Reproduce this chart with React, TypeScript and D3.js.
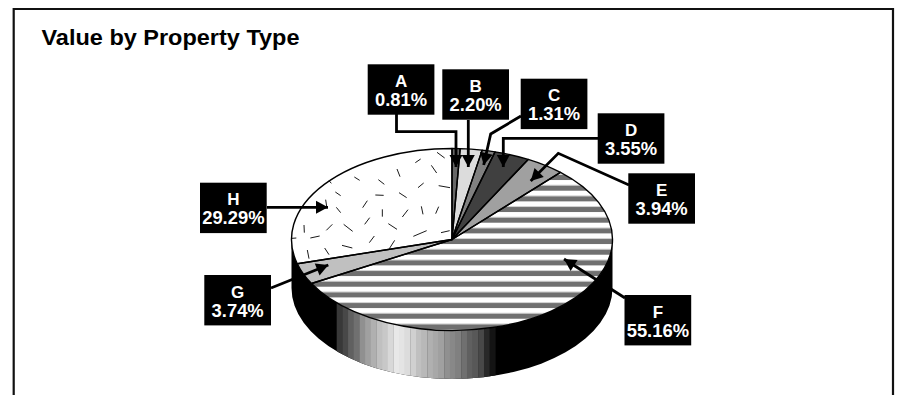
import React from "react";
import * as d3 from "d3";

const categories = ["A", "B", "C", "D", "E", "F", "G", "H"];
const shares = [0.81, 2.2, 1.31, 3.55, 3.94, 55.16, 3.74, 29.29];
const shareLabels = ["0.81%", "2.20%", "1.31%", "3.55%", "3.94%", "55.16%", "3.74%", "29.29%"];
const sliceFills = ["#666666", "#dcdcdc", "#808080", "#404040", "#a0a0a0", "#ffffff", "#c0c0c0", "#ffffff"];
const sideShades = [
  "#383838", "#484848", "#606060", "#707070", "#909090", "#a0a0a0", "#b0b0b0", "#c0c0c0", "#c8c8c8", "#d8d8d8",
  "#e8e8e8", "#e4e4e4", "#dcdcdc", "#d0d0d0", "#c0c0c0", "#b8b8b8", "#b0b0b0", "#a8a8a8", "#a0a0a0", "#909090",
  "#888888", "#808080", "#707070", "#606060", "#585858", "#484848", "#282828", "#141414",
];
const title = "Value by Property Type";

const W = 898, H = 395;
const cx = 452, cy = 239.5, rx = 160.5, ry = 91, depth = 48.5;

// callout boxes [left, top] and leader routes, per category
const boxSize: [number, number] = [66.7, 50.4];
const boxes: [number, number][] = [
  [367.7, 64.3], [442.3, 69.3], [520.7, 78.7], [597.7, 113.3],
  [628.3, 173.3], [624.5, 295], [204.3, 275], [200, 182.7],
];
const leaders: [number, number][][] = [
  [[396.5, 114], [396.5, 131.7], [456, 131.7], [456, 167]],
  [[468.3, 120], [468.3, 167]],
  [[521, 116], [490.7, 134], [483.7, 165]],
  [[598, 138.3], [503.3, 138.3], [503.3, 167]],
  [[629, 185], [558.3, 153.3], [530.7, 181]],
  [[625, 298], [564, 259]],
  [[271, 288], [328.3, 265]],
  [[267, 207.3], [328, 207.3]],
];

// dash texture of slice H, in a 495 x 360 tile laid over the slice
const texture: [number, number, number, number][] = [
  [441, 13, 464, 30], [376, 44, 392, 33], [321, 63, 330, 86], [424, 52, 440, 75], [193, 87, 209, 97],
  [265, 95, 283, 109], [117, 98, 124, 106], [384, 119, 401, 105], [446, 113, 480, 119], [136, 132, 152, 143],
  [256, 141, 281, 142], [327, 134, 350, 149], [107, 155, 110, 175], [139, 178, 152, 194], [218, 179, 232, 158],
  [277, 184, 277, 206], [337, 207, 354, 185], [394, 175, 399, 199], [437, 197, 446, 176], [224, 229, 239, 209],
  [161, 229, 188, 250], [295, 227, 321, 244], [42, 231, 43, 254], [109, 247, 127, 229], [370, 265, 410, 248],
  [61, 270, 89, 264], [453, 254, 479, 248], [6, 271, 19, 270], [238, 284, 253, 264], [156, 292, 187, 300],
  [298, 302, 314, 277], [104, 300, 117, 320], [52, 306, 57, 332],
];

const pieAngles = d3.pie<number>().sort(null).value((d) => d)(shares);
const arc = d3.arc<d3.PieArcDatum<number>>().innerRadius(0).outerRadius(rx);
const sliceTransform = `translate(${cx},${cy}) scale(1,${ry / rx})`;

const sideX = d3.scaleBand<number>().domain(d3.range(sideShades.length)).range([336.7, 495.3]);
const stripeY = d3.scaleLinear().domain([0, 1]).range([185.7, 196.37]);
const texX = d3.scaleLinear().domain([0, 495]).range([290, 455]);
const texY = d3.scaleLinear().domain([0, 360]).range([148, 268]);

const sidePath = `M${cx - rx},${cy} A${rx},${ry} 0 0 0 ${cx + rx},${cy} L${cx + rx},${cy + depth} A${rx},${ry} 0 0 1 ${cx - rx},${cy + depth} Z`;
const line = d3.line();
const font = "'Liberation Sans', Arial, sans-serif";

function arrowHead(pts: [number, number][]) {
  const [x1, y1] = pts[pts.length - 2];
  const [x2, y2] = pts[pts.length - 1];
  const a = Math.atan2(y2 - y1, x2 - x1);
  const len = 12, half = 6.5;
  const bx = x2 - len * Math.cos(a), by = y2 - len * Math.sin(a);
  const nx = -Math.sin(a) * half, ny = Math.cos(a) * half;
  return `${x2},${y2} ${bx + nx},${by + ny} ${bx - nx},${by - ny}`;
}

export default function App() {
  return (
    <svg width={W} height={H} viewBox={`0 0 ${W} ${H}`} style={{ position: "absolute", left: 0, top: 0, background: "#fff" }}>
      <defs>
        <clipPath id="side"><path d={sidePath} /></clipPath>
        <clipPath id="sliceF"><path transform={sliceTransform} d={arc(pieAngles[5]) as string} /></clipPath>
      </defs>
      <path d={`M13.7,${H} V9 H893 V${H}`} fill="none" stroke="#111" strokeWidth={2.2} />
      <text x={41.5} y={45} fontFamily={font} fontWeight="bold" fontSize={22} textLength={258} lengthAdjust="spacingAndGlyphs" fill="#000">{title}</text>

      <path d={sidePath} fill="#000" />
      <g clipPath="url(#side)">
        {sideShades.map((c, i) => (
          <rect key={i} x={sideX(i)} y={cy} width={sideX.bandwidth() + 0.3} height={ry + depth + 2} fill={c} />
        ))}
      </g>

      <g transform={sliceTransform}>
        {pieAngles.map((d, i) => (
          <path key={i} d={arc(d) as string} fill={sliceFills[i]} />
        ))}
      </g>
      <g clipPath="url(#sliceF)">
        {d3.range(-2, 16).map((k) => (
          <g key={k}>
            <rect x={cx - rx} y={stripeY(k) - 1} width={2 * rx} height={1} fill="#d0d0d0" />
            <rect x={cx - rx} y={stripeY(k)} width={2 * rx} height={5} fill="#707070" />
          </g>
        ))}
      </g>
      <g stroke="#000" strokeWidth={0.9}>
        {texture.map(([a, b, c, e], i) => (
          <line key={i} x1={texX(a)} y1={texY(b)} x2={texX(c)} y2={texY(e)} />
        ))}
      </g>
      <g transform={sliceTransform}>
        {pieAngles.map((d, i) => (
          <path key={i} d={arc(d) as string} fill="none" stroke="#000" strokeWidth={1.4} vectorEffect="non-scaling-stroke" strokeLinejoin="round" />
        ))}
      </g>

      {leaders.map((pts, i) => (
        <g key={i}>
          <path d={line(pts) as string} fill="none" stroke="#000" strokeWidth={2.8} />
          <polygon points={arrowHead(pts)} fill="#000" />
        </g>
      ))}

      {categories.map((c, i) => {
        const [x, y] = boxes[i];
        return (
          <g key={c}>
            <rect x={x} y={y} width={boxSize[0]} height={boxSize[1]} fill="#000" />
            <text x={x + boxSize[0] / 2} y={y + 22.7} textAnchor="middle" fontFamily={font} fontWeight="bold" fontSize={17} fill="#fff">{c}</text>
            <text x={x + boxSize[0] / 2} y={y + 41.5} textAnchor="middle" fontFamily={font} fontWeight="bold" fontSize={18.4} fill="#fff">{shareLabels[i]}</text>
          </g>
        );
      })}
    </svg>
  );
}
